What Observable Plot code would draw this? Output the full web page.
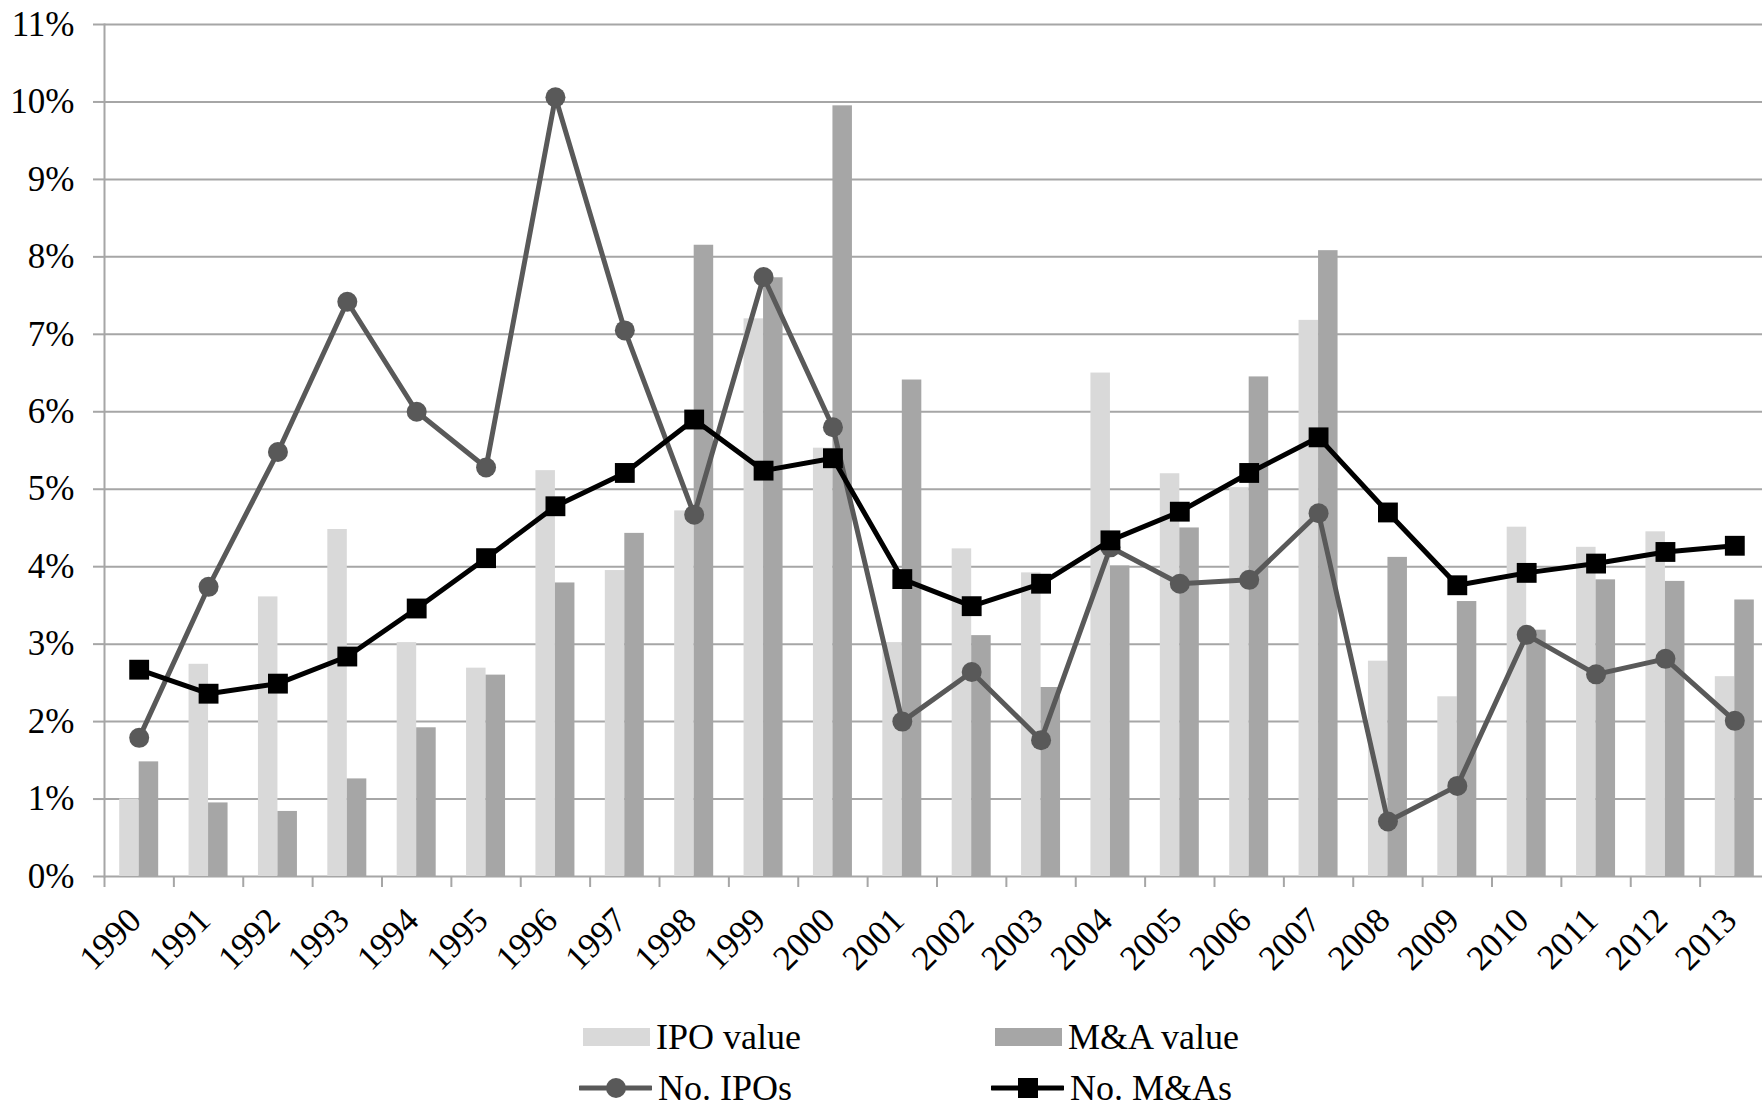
<!DOCTYPE html>
<html>
<head>
<meta charset="utf-8">
<script src="https://cdn.jsdelivr.net/npm/d3@7"></script>
<script src="https://cdn.jsdelivr.net/npm/@observablehq/plot@0.6"></script>
<style>
  html, body { margin: 0; padding: 0; background: #fff; overflow: hidden; }
  #wrap { position: relative; width: 1762px; height: 1107px; font-family: "Liberation Serif", "Times New Roman", serif; }
  .leg { position: absolute; display: flex; align-items: center; font-size: 36px; line-height: 1; color: #000; white-space: nowrap; }
  .leg svg { display: block; margin-right: 6px; }
</style>
</head>
<body>
<div id="wrap"></div>
<script>
const years = [1990,1991,1992,1993,1994,1995,1996,1997,1998,1999,2000,2001,2002,2003,2004,2005,2006,2007,2008,2009,2010,2011,2012,2013].map(String);
const ipoValue = [0.0100,0.0274,0.0361,0.0448,0.0302,0.0269,0.0524,0.0395,0.0472,0.0720,0.0553,0.0302,0.0423,0.0392,0.0650,0.0520,0.0502,0.0718,0.0278,0.0232,0.0451,0.0425,0.0445,0.0258];
const maValue  = [0.0148,0.0095,0.0084,0.0126,0.0192,0.0260,0.0379,0.0443,0.0815,0.0773,0.0995,0.0641,0.0311,0.0244,0.0401,0.0450,0.0645,0.0808,0.0412,0.0355,0.0318,0.0383,0.0381,0.0357];
const noIPOs   = [0.0179,0.0374,0.0548,0.0742,0.0600,0.0528,0.1006,0.0705,0.0467,0.0774,0.0580,0.0200,0.0264,0.0176,0.0425,0.0378,0.0383,0.0469,0.0071,0.0117,0.0312,0.0261,0.0281,0.0201];
const noMAs    = [0.0267,0.0236,0.0249,0.0284,0.0346,0.0411,0.0478,0.0521,0.0590,0.0524,0.0540,0.0384,0.0349,0.0378,0.0434,0.0471,0.0521,0.0567,0.0470,0.0376,0.0392,0.0404,0.0419,0.0427];
const yTicks = [0,0.01,0.02,0.03,0.04,0.05,0.06,0.07,0.08,0.09,0.10,0.11];
const seriesNames = ["IPO value","M&A value","No. IPOs","No. M&As"];

const data = years.map((y, i) => ({year: y, ipoValue: ipoValue[i], maValue: maValue[i], noIPOs: noIPOs[i], noMAs: noMAs[i]}));

const W = 1762, H = 990, mL = 104, mR = -7, mT = 24, mB = 114;
const bw = (W - mL - mR) / years.length;
const barW = 19.5;
const gridColor = "#a6a6a6";

const chart = Plot.plot({
  width: W, height: H,
  marginLeft: mL, marginRight: mR, marginTop: mT, marginBottom: mB,
  style: {fontFamily: "Liberation Serif, Times New Roman, serif", fontSize: "35px", color: "#000", background: "transparent", overflow: "visible"},
  x: {type: "band", domain: years, padding: 0, round: false, axis: null},
  y: {domain: [0, 0.11], axis: null},
  marks: [
    Plot.gridY(yTicks, {stroke: gridColor, strokeOpacity: 1, strokeWidth: 2}),
    Plot.axisY(yTicks, {tickFormat: d3.format(".0%"), tickSize: 11, tickPadding: 19, stroke: gridColor, strokeWidth: 2, fill: "#000", fontSize: 35, label: null}),
    Plot.frame({anchor: "left", stroke: gridColor, strokeWidth: 2}),
    Plot.axisX({tickSize: 11, tickFormat: () => "", dx: -bw / 2, stroke: gridColor, strokeWidth: 2, label: null}),
    Plot.barY(data, {x: "year", y: "ipoValue", fill: "#d9d9d9", insetLeft: bw / 2 - barW, insetRight: bw / 2}),
    Plot.barY(data, {x: "year", y: "maValue", fill: "#a6a6a6", insetLeft: bw / 2, insetRight: bw / 2 - barW}),
    Plot.line(data, {x: "year", y: "noIPOs", stroke: "#595959", strokeWidth: 5, strokeLinejoin: "round"}),
    Plot.dot(data, {x: "year", y: "noIPOs", r: 10, fill: "#595959", stroke: "none"}),
    Plot.line(data, {x: "year", y: "noMAs", stroke: "#000", strokeWidth: 5, strokeLinejoin: "round"}),
    Plot.dot(data, {x: "year", y: "noMAs", symbol: "square", r: 11.2, fill: "#000", stroke: "none"}),
    Plot.text(years, {x: d => d, frameAnchor: "bottom", text: d => d, rotate: -45, textAnchor: "end", lineAnchor: "middle", dx: -4, dy: 38, fontSize: 35, fill: "#000"})
  ]
});

const wrap = document.getElementById("wrap");
wrap.appendChild(chart);

function addLegend(label, x, y, swatchSvg) {
  const d = document.createElement("div");
  d.className = "leg";
  d.style.left = x + "px";
  d.style.top = (y - 18) + "px";
  d.style.height = "36px";
  d.innerHTML = swatchSvg + "<span>" + label.replace("&", "&amp;") + "</span>";
  wrap.appendChild(d);
}
const rect = c => `<svg width="67" height="18"><rect x="0" y="0" width="67" height="18" fill="${c}"/></svg>`;
const lineCircle = `<svg width="73" height="22"><line x1="1" y1="11" x2="72" y2="11" stroke="#595959" stroke-width="5" stroke-linecap="round"/><circle cx="37" cy="11" r="10" fill="#595959"/></svg>`;
const lineSquare = `<svg width="73" height="22"><line x1="1" y1="11" x2="72" y2="11" stroke="#000" stroke-width="5" stroke-linecap="round"/><rect x="27" y="1" width="20" height="20" fill="#000"/></svg>`;

addLegend(seriesNames[0], 583, 1037, rect("#d9d9d9"));
addLegend(seriesNames[1], 995, 1037, rect("#a6a6a6"));
addLegend(seriesNames[2], 579, 1088, lineCircle);
addLegend(seriesNames[3], 991, 1088, lineSquare);
</script>
</body>
</html>
